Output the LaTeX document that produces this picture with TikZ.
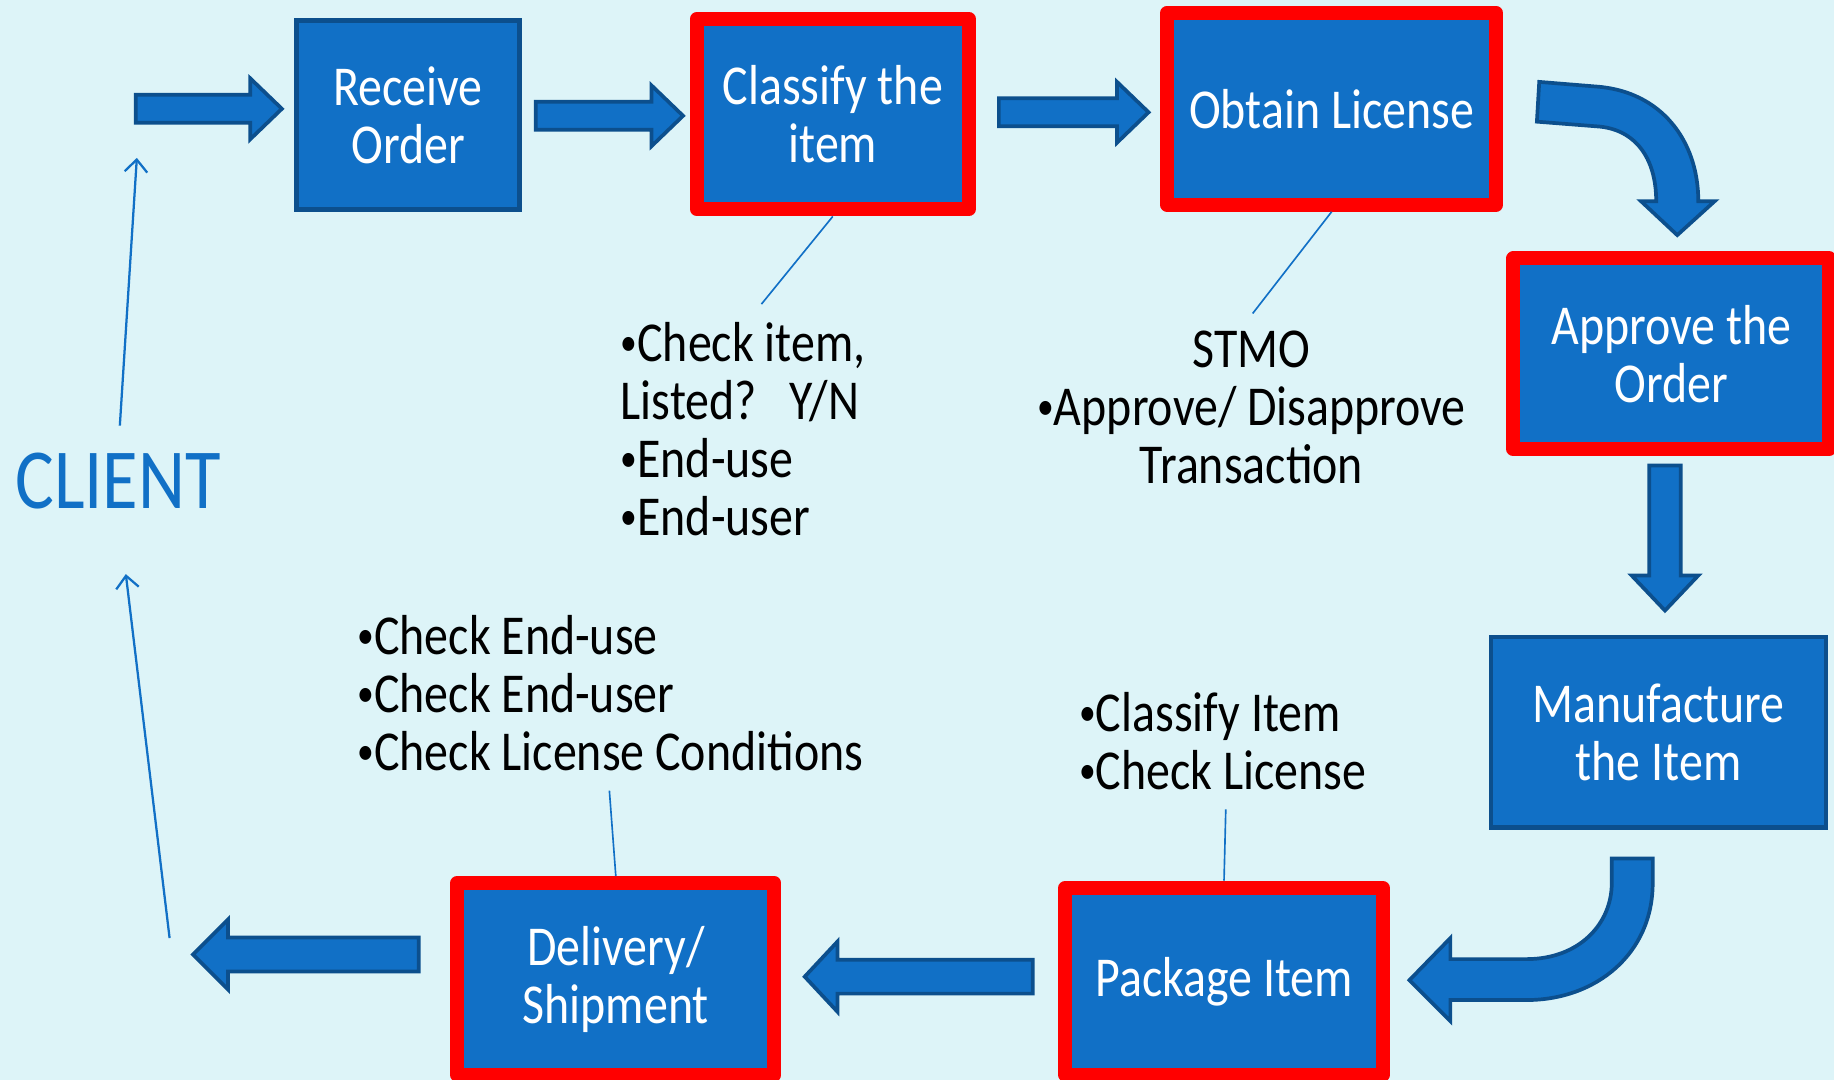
\documentclass[tikz,border=0pt]{standalone}
\usepackage{fontspec}
\setmainfont{Carlito}[FakeStretch=0.85]
\usetikzlibrary{arrows.meta}
\definecolor{slide}{HTML}{DDF4F8}
\definecolor{boxblue}{HTML}{1170C6}
\definecolor{edgeblue}{HTML}{0C4F8D}
\definecolor{flagred}{HTML}{FF0000}
\newcommand\notedot{\raisebox{0.1em}{\scalebox{0.7}{•}}}
\tikzset{
  stage/.style={draw=edgeblue,line width=1.1pt,fill=boxblue,text=white,align=center,inner sep=0pt},
  keystage/.style={draw=flagred,line width=3.4pt,line join=round,fill=boxblue,text=white,align=center,inner sep=0pt},
  blockarrow/.style={fill=boxblue,draw=edgeblue,line width=0.9pt,line join=miter},
  callout/.style={draw=boxblue,line width=0.4pt},
  note/.style={inner sep=0pt,align=left},
}
\begin{document}
\begin{tikzpicture}[x=0.01cm,y=-0.01cm,>={Straight Barb[length=3pt,width=5.5pt]},line cap=butt,font=\fontsize{13.7}{14.1}\selectfont]
    \fill[slide] (0,0) rectangle (1568,923);
    \useasboundingbox (0,0) rectangle (1568,923);
    % stages of the order
    \node[stage,minimum width=1.905cm,minimum height=1.615cm] (receive) at (349,98.5) {Receive\\Order};
    \node[keystage,minimum width=2.32cm,minimum height=1.63cm] (classify) at (712,97.5) {Classify the\\item};
    \node[keystage,minimum width=2.81cm,minimum height=1.64cm] (license) at (1138.5,93) {Obtain License};
    \node[keystage,minimum width=2.70cm,minimum height=1.63cm] (approve) at (1429,302.5) {Approve the\\Order};
    \node[stage,minimum width=2.865cm,minimum height=1.625cm] (make) at (1418,626) {Manufacture\\the Item};
    \node[keystage,minimum width=2.71cm,minimum height=1.60cm] (package) at (1046.5,839) {Package Item};
    \node[keystage,minimum width=2.71cm,minimum height=1.64cm] (ship) at (526.5,837) {Delivery/\\Shipment};
    % notes under and over the stages
    \node[note,anchor=north west] (classnote) at (530,275) {\notedot Check item,\\Listed?~~~Y/N\\\notedot End-use\\\notedot End-user};
    \node[note,align=center,anchor=north] (stmonote) at (1070,282) {STMO\\\notedot Approve/ Disapprove\\Transaction};
    \node[note,anchor=north west] (shipnote) at (305,525) {\notedot Check End-use\\\notedot Check End-user\\\notedot Check License Conditions};
    \node[note,anchor=north west] (packnote) at (922,591) {\notedot Classify Item\\\notedot Check License};
    \node[text=boxblue,font=\fontsize{20.8}{25}\selectfont,inner sep=0pt] (client) at (101,411.5) {CLIENT};
    \coordinate (classtip) at (651,260);
    \coordinate (stmotip) at (1071,268);
    \coordinate (shiptip) at (521,676);
    \coordinate (packtip) at (1048,692);
    \draw[callout] (classify.south) -- (classtip);
    \draw[callout] (license.south) -- (stmotip);
    \draw[callout] (ship.north) -- (shiptip);
    \draw[callout] (package.north) -- (packtip);
    % client loop
    \coordinate (orderin) at (117,135);
    \coordinate (goodsout) at (145,802);
    \draw[->,boxblue,line width=0.55pt,shorten <=0.23cm] (client.north) -- (orderin);
    \draw[->,boxblue,line width=0.55pt,shorten >=0.55cm] (goodsout) -- (client.south);
    % straight block arrows
    \foreach \xs/\xh/\xt/\yc in {116/214/241/93,458/557/584/99,854/955/982/96}
        \draw[blockarrow] (\xs,\yc-12) -- (\xh,\yc-12) -- (\xh,\yc-26) -- (\xt,\yc) -- (\xh,\yc+26) -- (\xh,\yc+12) -- (\xs,\yc+12) -- cycle;
    \foreach \xs/\xh/\xt/\yc in {883/716/688/835,358/195/165/816}
        \draw[blockarrow] (\xs,\yc-14.5) -- (\xh,\yc-14.5) -- (\xh,\yc-30) -- (\xt,\yc) -- (\xh,\yc+30) -- (\xh,\yc+14.5) -- (\xs,\yc+14.5) -- cycle;
    \draw[blockarrow] (1410,398) -- (1437,398) -- (1437,492) -- (1452,492) -- (1423.5,522) -- (1395,492) -- (1410,492) -- cycle;
    % bent block arrows
    \draw[blockarrow] (1316,70) -- (1365,74) .. controls (1420,78) and (1452,120) .. (1452,172)
        -- (1466,172) -- (1434,201) -- (1403,172) -- (1416,172)
        .. controls (1416,135) and (1398,110) .. (1365,108) -- (1314,104) -- cycle;
    \draw[blockarrow] (1378,734) -- (1413,734) -- (1413,755) .. controls (1413,815) and (1365,855) .. (1305,855)
        -- (1240,855) -- (1240,873) -- (1205,838) -- (1240,802) -- (1240,820) -- (1305,820)
        .. controls (1350,820) and (1378,790) .. (1378,755) -- cycle;
\end{tikzpicture}
\end{document}
